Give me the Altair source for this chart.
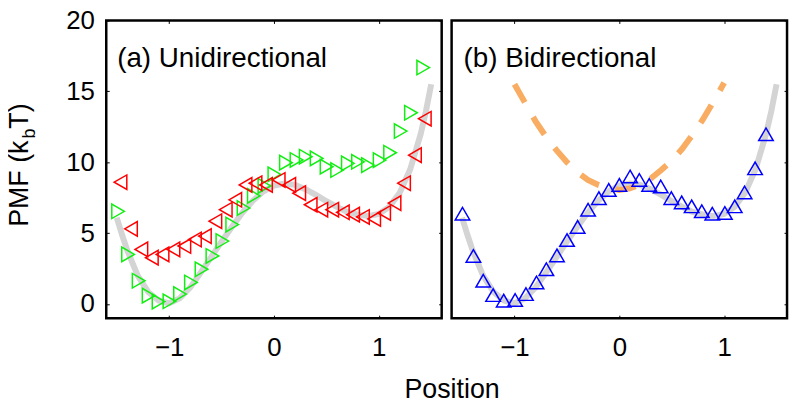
import altair as alt
import pandas as pd

# ---------------- data ----------------
curve_x = [-1.50, -1.45, -1.40, -1.35, -1.30, -1.20, -1.10, -1.00, -0.90, -0.80,
           -0.70, -0.60, -0.50, -0.40, -0.30, -0.20, -0.10, 0.00, 0.10, 0.20,
           0.30, 0.40, 0.50, 0.60, 0.70, 0.80, 0.90, 1.00, 1.10, 1.20,
           1.30, 1.40, 1.45, 1.50]
curve_y = [6.1, 4.9, 3.8, 2.9, 2.0, 0.85, 0.25, 0.05, 0.4, 1.15,
           2.2, 3.3, 4.4, 5.45, 6.45, 7.3, 7.95, 8.35, 8.5, 8.4,
           8.1, 7.7, 7.25, 6.85, 6.5, 6.3, 6.2, 6.35, 6.85, 7.85,
           9.5, 12.0, 13.6, 15.5]

green_x = [-1.487, -1.392, -1.291, -1.196, -1.101, -0.997, -0.896, -0.792, -0.691, -0.587,
           -0.492, -0.398, -0.290, -0.192, -0.091, 0.004, 0.114, 0.215, 0.303, 0.407,
           0.502, 0.603, 0.705, 0.802, 0.897, 1.008, 1.108, 1.209, 1.307, 1.424]
green_y = [6.54, 3.50, 1.64, 0.59, 0.17, 0.19, 0.70, 1.52, 2.45, 3.39,
           4.44, 5.60, 6.77, 7.63, 8.33, 9.15, 9.97, 10.16, 10.39, 10.27,
           9.69, 9.45, 9.92, 10.03, 9.80, 10.15, 10.67, 12.20, 13.49, 16.68]

red_x = [-1.464, -1.364, -1.265, -1.165, -1.063, -0.959, -0.855, -0.754, -0.659, -0.559,
         -0.460, -0.369, -0.271, -0.176, -0.076, 0.045, 0.146, 0.241, 0.350, 0.452,
         0.556, 0.657, 0.755, 0.849, 0.956, 1.051, 1.150, 1.241, 1.345, 1.439]
red_y = [8.59, 5.30, 3.85, 3.27, 3.50, 3.85, 4.09, 4.55, 4.79, 5.84,
         6.65, 7.35, 8.40, 8.52, 8.40, 8.75, 8.40, 7.82, 7.00, 6.65,
         6.65, 6.47, 6.30, 6.14, 6.00, 6.42, 7.12, 8.52, 10.50, 13.07]

blue_x = [-1.496, -1.392, -1.298, -1.204, -1.103, -0.994, -0.891, -0.790, -0.696, -0.595,
          -0.499, -0.398, -0.298, -0.195, -0.101, 0.000, 0.103, 0.191, 0.285, 0.395,
          0.496, 0.595, 0.690, 0.787, 0.887, 1.007, 1.101, 1.195, 1.295, 1.399]
blue_y = [6.37, 3.39, 1.64, 0.63, 0.24, 0.28, 0.70, 1.52, 2.45, 3.43,
          4.51, 5.44, 6.65, 7.47, 8.05, 8.40, 8.99, 8.75, 8.40, 8.29,
          7.47, 7.17, 6.89, 6.54, 6.37, 6.42, 6.89, 7.87, 9.57, 11.97]

orange_x = [-1.0, -0.9, -0.8, -0.7, -0.6, -0.5, -0.4, -0.3, -0.2, -0.1, 0.0,
            0.1, 0.2, 0.3, 0.4, 0.5, 0.6, 0.7, 0.8, 0.9, 1.0]
orange_y = [15.5, 14.2, 12.9, 11.8, 10.85, 10.0, 9.3, 8.75, 8.4, 8.15, 8.05,
            8.15, 8.45, 8.85, 9.45, 10.1, 10.95, 11.95, 13.05, 14.3, 15.6]

x_ticks = [-1, 0, 1]
y_ticks = [0, 5, 10, 15, 20]
x_domain = [-1.6, 1.6]
y_domain = [-1, 20]

panel_a = "(a) Unidirectional"
panel_b = "(b) Bidirectional"
ytitle_main, ytitle_sub, ytitle_end = "PMF (k", "b", "T)"
xtitle = "Position"

# ---------------- styling ----------------
FONT = "Liberation Sans"
W, H = 338, 300
XS = alt.Scale(domain=x_domain, nice=False, zero=False)
YS = alt.Scale(domain=y_domain, nice=False, zero=False)


def tick_axis(orient, values):
    return alt.Axis(orient=orient, values=values, labels=False, domain=False, grid=False,
                    ticks=True, tickSize=3, offset=-3, tickColor="black", tickWidth=1,
                    title=None)


def bottom_axis(with_title):
    kw = dict(orient="bottom", values=x_ticks, offset=-3, tickSize=3, tickColor="black",
              tickWidth=1, labelPadding=17, labelFontSize=26, labelFont=FONT,
              labelColor="black", domain=False, grid=False)
    if with_title:
        kw.update(title=xtitle, titleX=348, titleY=83, titleAlign="center",
                  titleBaseline="alphabetic", titleFontSize=27, titleFont=FONT,
                  titleFontWeight="normal", titleColor="black")
    else:
        kw.update(title=None)
    return alt.Axis(**kw)


left_axis = alt.Axis(orient="left", values=y_ticks, offset=-3, tickSize=3, tickColor="black",
                     tickWidth=1, labelPadding=12, labelFontSize=26, labelFont=FONT,
                     labelColor="black", domain=False, grid=False, title=None)

one = pd.DataFrame({"k": [0]})
gray_df = pd.DataFrame({"x": curve_x, "y": curve_y})
green_df = pd.DataFrame({"x": green_x, "y": green_y})
red_df = pd.DataFrame({"x": red_x, "y": red_y})
blue_df = pd.DataFrame({"x": blue_x, "y": blue_y})
orange_df = pd.DataFrame({"x": orange_x, "y": orange_y})


def marker(df, shape, color, xaxis=None, yaxis=None):
    return alt.Chart(df).mark_point(shape=shape, size=215, filled=False, color=color,
                                    strokeWidth=1.5, opacity=1).encode(
        x=alt.X("x:Q", scale=XS, axis=xaxis),
        y=alt.Y("y:Q", scale=YS, axis=yaxis))


def label(text, x, y, size, align="left", angle=0, dy=0):
    kw = dict(text=text, align=align, baseline="alphabetic", fontSize=size, font=FONT,
              color="black", dy=dy)
    if angle:
        kw["angle"] = angle
    return alt.Chart(one).mark_text(**kw).encode(x=alt.value(x), y=alt.value(y))


# ---------------- left panel ----------------
gray_a = alt.Chart(gray_df).mark_line(color="#d4d4d4", strokeWidth=6).encode(
    x=alt.X("x:Q", scale=XS, axis=bottom_axis(True)),
    y=alt.Y("y:Q", scale=YS, axis=left_axis))
green_m = marker(green_df, "triangle-right", "#11ee11", tick_axis("top", x_ticks),
                 tick_axis("right", y_ticks))
red_m = marker(red_df, "triangle-left", "#ff0000")

left = alt.layer(
    gray_a, green_m, red_m,
    label(panel_a, 11, 47, 28),
    label(ytitle_main, -79, 121, 27, align="right", angle=270),
    label(ytitle_sub, -79, 119, 18, align="left", angle=270, dy=7),
    label(ytitle_end, -79, 109, 27, align="left", angle=270),
).resolve_axis(x="independent", y="independent").properties(width=W, height=H)

# ---------------- right panel ----------------
gray_b = alt.Chart(gray_df).mark_line(color="#d4d4d4", strokeWidth=6).encode(
    x=alt.X("x:Q", scale=XS, axis=bottom_axis(False)),
    y=alt.Y("y:Q", scale=YS, axis=None))
orange_l = alt.Chart(orange_df).mark_line(color="#f9ad62", strokeWidth=6,
                                          strokeDash=[21, 17]).encode(
    x=alt.X("x:Q", scale=XS, axis=tick_axis("top", x_ticks)),
    y=alt.Y("y:Q", scale=YS, axis=tick_axis("right", y_ticks)))
blue_m = marker(blue_df, "triangle-up", "#0000ff")

right = alt.layer(
    gray_b, orange_l, blue_m,
    label(panel_b, 12, 47, 28),
).resolve_axis(x="independent", y="independent").properties(width=W, height=H)

chart = alt.hconcat(left, right, spacing=10, bounds="flush").properties(
    padding={"left": -4, "top": -4, "right": 2, "bottom": 8}
).configure_view(stroke="black", strokeWidth=2.5)

chart.save("out.html", embed_options={"renderer": "svg", "actions": False})
